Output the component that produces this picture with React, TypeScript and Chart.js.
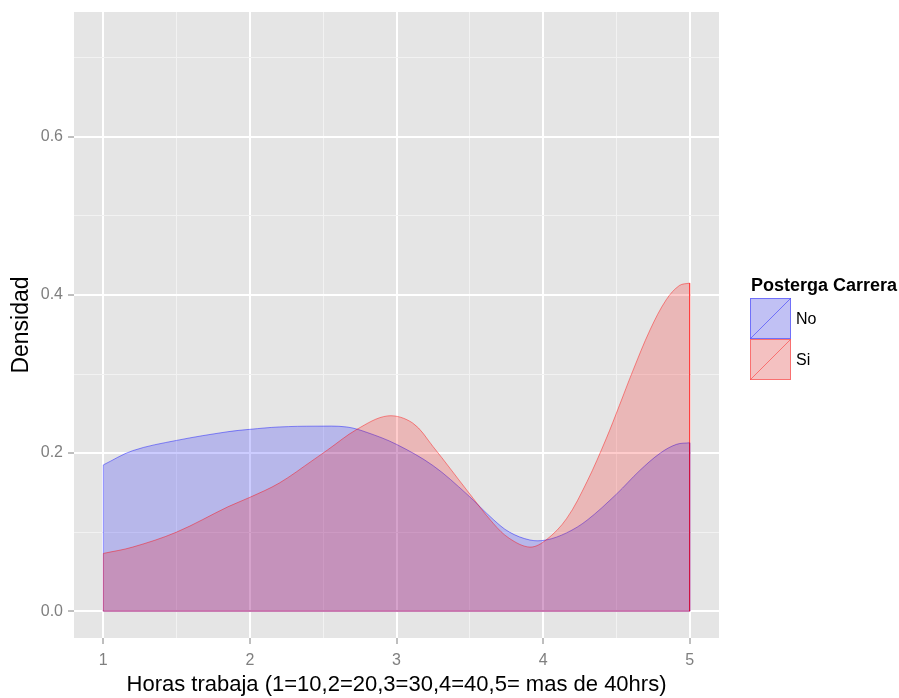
import { useEffect, useRef } from "react";
import { Chart, registerables } from "chart.js";

Chart.register(...registerables);

// ---- data ----
const groups = ["No", "Si"];
const xNo = [1, 1.2, 1.5, 1.85, 2.0, 2.2, 2.45, 2.66, 2.8, 3.0, 3.25, 3.48, 3.66, 3.77, 3.91, 4.02, 4.16, 4.3, 4.5, 4.66, 4.8, 4.91, 5.0];
const densNo = [0.185, 0.203, 0.216, 0.227, 0.230, 0.233, 0.234, 0.233, 0.226, 0.211, 0.184, 0.148, 0.116, 0.100, 0.090, 0.090, 0.099, 0.115, 0.148, 0.178, 0.200, 0.211, 0.213];
const xSi = [1, 1.2, 1.5, 1.85, 2.0, 2.2, 2.43, 2.53, 2.73, 2.94, 3.11, 3.25, 3.48, 3.66, 3.77, 3.91, 4.02, 4.16, 4.3, 4.43, 4.52, 4.61, 4.73, 4.84, 4.93, 5.0];
const densSi = [0.073, 0.081, 0.100, 0.132, 0.144, 0.162, 0.191, 0.204, 0.230, 0.247, 0.238, 0.208, 0.153, 0.111, 0.092, 0.081, 0.090, 0.117, 0.164, 0.218, 0.260, 0.303, 0.356, 0.394, 0.412, 0.415];

const xMajorTicks = [1, 2, 3, 4, 5];
const xMinorTicks = [1.5, 2.5, 3.5, 4.5];
const yMajorTicks = [0, 0.2, 0.4, 0.6];
const yMinorTicks = [0.1, 0.3, 0.5, 0.7];

const xTitle = "Horas trabaja (1=10,2=20,3=30,4=40,5= mas de 40hrs)";
const yTitle = "Densidad";
const legendTitle = "Posterga Carrera";

// ---- styles ----
const FONT = "'Liberation Sans', Arial, sans-serif";
const fillColors = ["rgba(0,0,255,0.2)", "rgba(255,0,0,0.2)"];
const lineColors = ["rgba(0,0,255,0.42)", "rgba(255,0,0,0.42)"];

const isMajor = (list: number[], v: number) => list.some((m) => Math.abs(m - v) < 1e-9);

const toPoints = (xs: number[], ys: number[]) => xs.map((x, i) => ({ x, y: ys[i] }));
const outline = (xs: number[], ys: number[]) => [
  { x: xs[xs.length - 1], y: ys[ys.length - 1] },
  { x: xs[xs.length - 1], y: 0 },
  { x: xs[0], y: 0 },
  { x: xs[0], y: ys[0] },
];

const panelBg = {
  id: "panelBg",
  beforeDraw(chart: any) {
    const { ctx, chartArea: a } = chart;
    ctx.save();
    ctx.fillStyle = "#e5e5e5";
    ctx.fillRect(a.left, a.top, a.right - a.left, a.bottom - a.top);
    ctx.restore();
  },
};

const legendPlugin = {
  id: "ggLegend",
  afterDraw(chart: any) {
    const ctx = chart.ctx;
    ctx.save();
    ctx.fillStyle = "#000";
    ctx.font = `bold 18px ${FONT}`;
    ctx.textBaseline = "alphabetic";
    ctx.textAlign = "left";
    ctx.fillText(legendTitle, 751, 291);
    const x0 = 750, size = 41;
    groups.forEach((g, i) => {
      const y0 = 298 + i * size;
      ctx.fillStyle = "#f2f2f2";
      ctx.fillRect(x0, y0, size, size);
      ctx.fillStyle = fillColors[i];
      ctx.fillRect(x0, y0, size, size);
      ctx.strokeStyle = lineColors[i];
      ctx.lineWidth = 1;
      ctx.strokeRect(x0 + 0.5, y0 + 0.5, size - 1, size - 1);
      ctx.beginPath();
      ctx.moveTo(x0 + 0.5, y0 + size - 0.5);
      ctx.lineTo(x0 + size - 0.5, y0 + 0.5);
      ctx.stroke();
      ctx.fillStyle = "#000";
      ctx.font = `16px ${FONT}`;
      ctx.textBaseline = "middle";
      ctx.fillText(g, x0 + size + 5, y0 + size / 2 + 1);
    });
    ctx.restore();
  },
};

export default function App() {
  const ref = useRef<HTMLCanvasElement | null>(null);

  useEffect(() => {
    if (!ref.current) return;
    Chart.defaults.font.family = FONT;
    const xAll = [...xMajorTicks, ...xMinorTicks].sort((a, b) => a - b);
    const yAll = [...yMajorTicks, ...yMinorTicks].sort((a, b) => a - b);

    const curve = {
      borderWidth: 1,
      fill: "origin",
      pointRadius: 0,
      tension: 0.35,
    };
    const edge = {
      borderWidth: 1,
      fill: false,
      pointRadius: 0,
      tension: 0,
    };

    const chart = new Chart(ref.current, {
      type: "line",
      data: {
        datasets: [
          {
            ...curve,
            label: groups[1],
            data: toPoints(xSi, densSi),
            borderColor: lineColors[1],
            backgroundColor: fillColors[1],
            order: 0,
          },
          {
            ...curve,
            label: groups[0],
            data: toPoints(xNo, densNo),
            borderColor: lineColors[0],
            backgroundColor: fillColors[0],
            order: 2,
          },
          {
            ...edge,
            label: groups[1] + " edge",
            data: outline(xSi, densSi),
            borderColor: lineColors[1],
            order: 0,
          },
          {
            ...edge,
            label: groups[0] + " edge",
            data: outline(xNo, densNo),
            borderColor: lineColors[0],
            order: 2,
          },
        ],
      },
      options: {
        animation: false,
        responsive: false,
        devicePixelRatio: 1,
        layout: { padding: { top: 12, right: 180, left: 0, bottom: 0 } },
        plugins: { legend: { display: false }, tooltip: { enabled: false } },
        scales: {
          x: {
            type: "linear",
            min: 0.8,
            max: 5.2,
            afterBuildTicks: (scale: any) => {
              scale.ticks = xAll.map((v) => ({ value: v }));
            },
            afterFit: (scale: any) => {
              scale.height = 60;
              scale.paddingLeft = 0;
              scale.paddingRight = 0;
            },
            border: { display: false },
            grid: {
              color: (c: any) => (c.tick && isMajor(xMajorTicks, c.tick.value) ? "#ffffff" : "#f2f2f2"),
              lineWidth: (c: any) => (c.tick && isMajor(xMajorTicks, c.tick.value) ? 2 : 1),
              tickColor: (c: any) => (c.tick && isMajor(xMajorTicks, c.tick.value) ? "#7f7f7f" : "rgba(0,0,0,0)"),
              tickLength: 6,
              tickWidth: 1,
            },
            ticks: {
              autoSkip: false,
              maxRotation: 0,
              padding: 7,
              color: "#7f7f7f",
              font: { size: 16, family: FONT },
              callback: (v: any) => (isMajor(xMajorTicks, Number(v)) ? String(v) : ""),
            },
            title: {
              display: true,
              text: xTitle,
              color: "#000",
              font: { size: 22, family: FONT },
              padding: { top: 0, bottom: 0 },
            },
          },
          y: {
            type: "linear",
            min: -0.034,
            max: 0.758,
            afterBuildTicks: (scale: any) => {
              scale.ticks = yAll.map((v) => ({ value: v }));
            },
            afterFit: (scale: any) => {
              scale.width = 74;
              scale.paddingTop = 0;
              scale.paddingBottom = 0;
            },
            border: { display: false },
            grid: {
              color: (c: any) => (c.tick && isMajor(yMajorTicks, c.tick.value) ? "#ffffff" : "#f2f2f2"),
              lineWidth: (c: any) => (c.tick && isMajor(yMajorTicks, c.tick.value) ? 2 : 1),
              tickColor: (c: any) => (c.tick && isMajor(yMajorTicks, c.tick.value) ? "#7f7f7f" : "rgba(0,0,0,0)"),
              tickLength: 6,
              tickWidth: 1,
            },
            ticks: {
              autoSkip: false,
              padding: 5,
              color: "#7f7f7f",
              font: { size: 16, family: FONT },
              callback: (v: any) => (isMajor(yMajorTicks, Number(v)) ? Number(v).toFixed(1) : ""),
            },
            title: {
              display: true,
              text: yTitle,
              color: "#000",
              font: { size: 23, family: FONT },
              padding: { top: 8, bottom: 0 },
            },
          },
        },
      },
      plugins: [panelBg, legendPlugin],
    } as any);

    return () => chart.destroy();
  }, []);

  return (
    <div style={{ position: "absolute", left: 0, top: 0, width: 899, height: 698, background: "#fff" }}>
      <canvas ref={ref} width={899} height={698} style={{ display: "block" }} />
    </div>
  );
}
